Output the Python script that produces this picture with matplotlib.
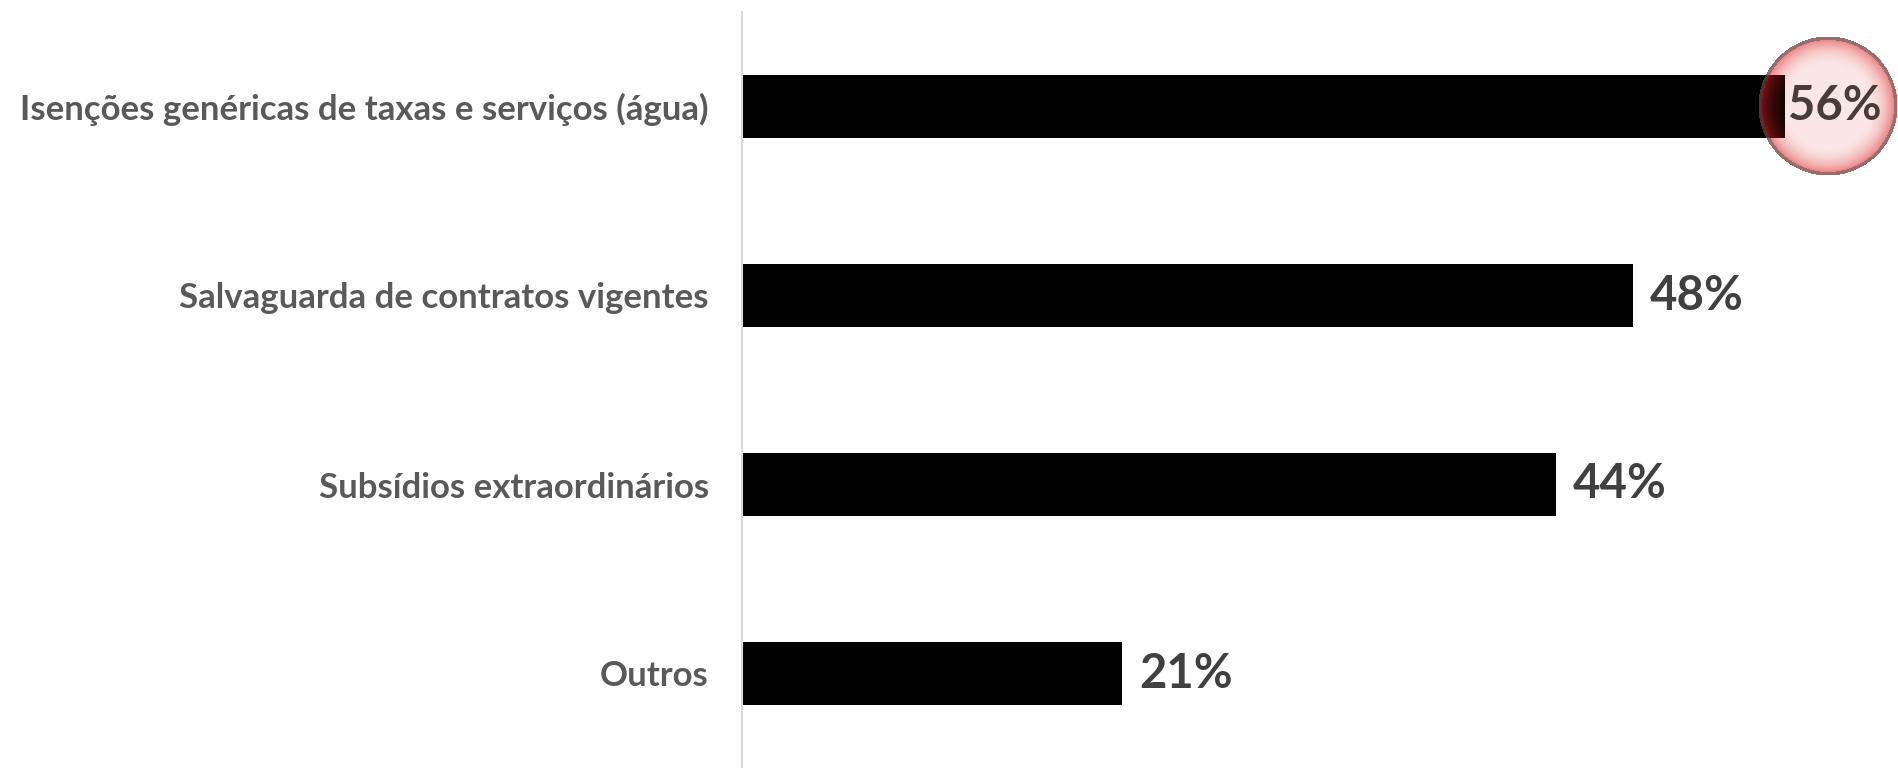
import numpy as np
from matplotlib import pyplot as plt
from matplotlib.offsetbox import OffsetImage, AnnotationBbox

categories = ["Isenções genéricas de taxas e serviços (água)",
              "Salvaguarda de contratos vigentes",
              "Subsídios extraordinários",
              "Outros"]
values = [56, 47.8, 43.7, 20.4]
value_labels = ["56%", "48%", "44%", "21%"]
highlight = 0  # bar that gets the pink circle

plt.rcParams['font.family'] = ['Lato', 'DejaVu Sans']


def circle_image(size=140):
    # radial red tint, transparent-ish in the middle, stronger at the rim
    yy, xx = np.mgrid[0:size, 0:size]
    c = (size - 1) / 2
    r = np.hypot(xx - c, yy - c) / c
    img = np.zeros((size, size, 4))
    img[..., 0] = 0.86
    img[..., 1] = 0.12
    img[..., 2] = 0.12
    alpha = 0.11 + 0.55 * np.clip((r - 0.55) / 0.45, 0, 1) ** 2.2
    img[..., 3] = np.where(r <= 1, alpha, 0)
    rim = (r > 0.95) & (r <= 1.0)
    img[rim, 0] = 0.45
    img[rim, 1] = 0.25
    img[rim, 2] = 0.25
    img[rim, 3] = 0.75
    return img


def main():
    fig = plt.figure(figsize=(18.98, 7.68), dpi=100)
    ax = fig.add_axes([742 / 1898, 0, 1 - 742 / 1898, 756 / 768])

    y = np.arange(len(categories))
    ax.barh(y, values, height=0.33, color='black', zorder=2)
    ax.set_ylim(len(categories) - 0.5, -0.5)
    ax.set_xlim(0, 62.05)

    ax.set_yticks(y)
    ax.set_yticklabels(categories, fontsize=25, fontweight='bold', color='#595959')
    ax.tick_params(axis='y', length=0, pad=24)
    ax.set_xticks([])
    for s in ['top', 'right', 'bottom']:
        ax.spines[s].set_visible(False)
    ax.spines['left'].set_color('#d9d9d9')
    ax.spines['left'].set_linewidth(1.5)

    for i, (v, lab) in enumerate(zip(values, value_labels)):
        if i == highlight:
            ab = AnnotationBbox(OffsetImage(circle_image(), zoom=1, dpi_cor=False),
                                (v, i), xybox=(43, 0), boxcoords='offset pixels',
                                frameon=False, pad=0, zorder=3)
            ax.add_artist(ab)
            ax.annotate(lab, (v, i), xytext=(50, 0), textcoords='offset pixels',
                        ha='center', va='center', fontsize=34, fontweight='bold',
                        color='#4a3b3b', zorder=4)
        else:
            ax.annotate(lab, (v, i), xytext=(17, 0), textcoords='offset pixels',
                        ha='left', va='center', fontsize=34, fontweight='bold',
                        color='#404040', zorder=4)

    fig.savefig('out.png', dpi=100)


if __name__ == '__main__':
    main()
